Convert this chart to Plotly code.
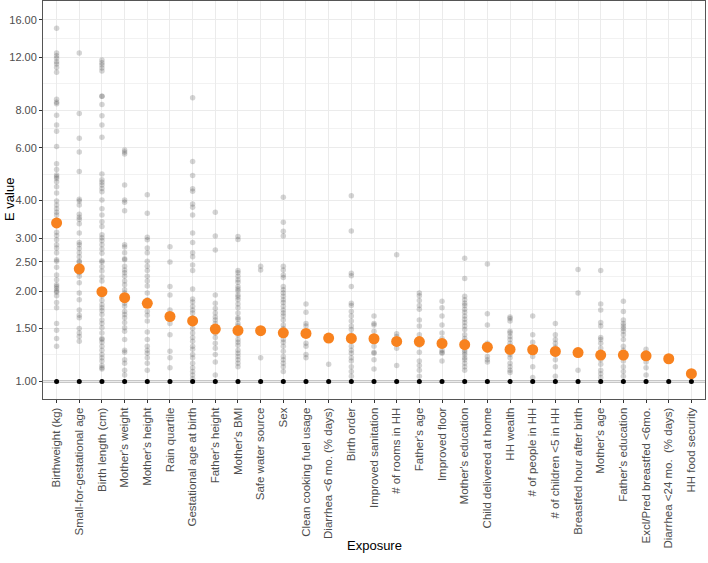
import plotly.graph_objects as go
import numpy as np

categories = [
    "Birthweight (kg)", "Small-for-gestational age", "Birth length (cm)", "Mother's weight",
    "Mother's height", "Rain quartile", "Gestational age at birth", "Father's height",
    "Mother's BMI", "Safe water source", "Sex", "Clean cooking fuel usage",
    "Diarrhea <6 mo. (% days)", "Birth order", "Improved sanitation", "# of rooms in HH",
    "Father's age", "Improved floor", "Mother's education", "Child delivered at home",
    "HH wealth", "# of people in HH", "# of children <5 in HH", "Breastfed hour after birth",
    "Mother's age", "Father's education", "Excl/Pred breastfed <6mo.",
    "Diarrhea <24 mo.  (% days)", "HH food security",
]

# median E value per exposure (orange)
median_evalue = [3.37, 2.37, 1.99, 1.90, 1.82, 1.645, 1.59, 1.494, 1.478, 1.475,
                 1.452, 1.445, 1.394, 1.39, 1.387, 1.359, 1.357, 1.338, 1.325, 1.30,
                 1.278, 1.275, 1.259, 1.248, 1.224, 1.224, 1.217, 1.19, 1.061]

# null reference value (black points)
null_evalue = [1.0, 1.0, 1.0, 1.0, 1.0, 1.0, 1.0, 1.0, 1.0, 1.0, 1.0, 1.0, 1.0, 1.0, 1.0,
               1.0, 1.0, 1.0, 1.0, 1.0, 1.0, 1.0, 1.0, 1.0, 1.0, 1.0, 1.0, 1.0, 1.0]

# individual E values (grey points), one list per exposure
ev_birthweight = [15.0, 12.4, 12.15, 11.9, 11.6, 11.4, 11.1, 10.7, 8.7, 8.5, 8.4, 7.7, 7.14, 6.8,
                  6.05, 5.3, 5.08, 4.87, 4.8, 4.74, 4.62, 4.45, 4.24, 3.99, 3.87, 3.76, 3.66,
                  3.58, 3.45, 3.3, 3.14, 3.06, 2.96, 2.85, 2.78, 2.68, 2.54, 2.51, 2.4, 2.26,
                  2.18, 2.10, 2.07, 2.04, 2.0, 1.98, 1.93, 1.83, 1.76, 1.56, 1.48, 1.39, 1.31]
ev_sga = [12.4, 7.8, 6.45, 5.8, 5.0, 4.04, 3.99, 3.87, 3.6, 3.52, 3.46, 3.35, 3.12, 2.9, 2.85,
          2.77, 2.68, 2.6, 2.51, 2.5, 2.42, 2.3, 2.24, 2.13, 1.97, 1.87, 1.73, 1.66, 1.63, 1.5,
          1.45, 1.41, 1.36]
ev_birthlength = [11.75, 11.5, 11.3, 11.05, 10.8, 8.9, 8.9, 8.35, 7.67, 7.14, 6.5, 4.9, 4.69, 4.6,
                  4.51, 4.39, 4.28, 4.02, 3.76, 3.58, 3.4, 3.28, 3.08, 3.01, 2.94, 2.85, 2.76,
                  2.67, 2.52, 2.5, 2.41, 2.33, 2.23, 2.16, 2.0, 1.93, 1.86, 1.8, 1.76, 1.72, 1.67,
                  1.6, 1.56, 1.51, 1.45, 1.39, 1.38, 1.35, 1.31, 1.27, 1.23, 1.2, 1.17, 1.13,
                  1.11, 1.1]
ev_mweight = [5.9, 5.8, 5.72, 4.51, 4.02, 3.95, 3.7, 2.85, 2.8, 2.68, 2.56, 2.54, 2.42, 2.35, 2.3,
              2.24, 2.16, 2.1, 2.02, 1.97, 1.92, 1.87, 1.82, 1.78, 1.71, 1.67, 1.63, 1.57, 1.51,
              1.47, 1.38, 1.27, 1.25, 1.18, 1.15, 1.09, 1.05]
ev_mheight = [4.18, 3.63, 3.02, 2.96, 2.78, 2.68, 2.51, 2.42, 2.34, 2.24, 2.16, 2.08, 1.97, 1.87,
              1.71, 1.66, 1.59, 1.46, 1.38, 1.31, 1.27, 1.24, 1.2, 1.15, 1.09]
ev_rain = [2.81, 2.5, 2.07, 1.94, 1.73, 1.56, 1.43, 1.26, 1.2, 1.11]
ev_gestage = [8.8, 5.4, 4.85, 4.38, 4.3, 3.9, 3.8, 3.58, 3.12, 2.9, 2.68, 2.6, 2.44, 2.34, 2.03,
              1.88, 1.84, 1.78, 1.73, 1.69, 1.63, 1.56, 1.5, 1.45, 1.4, 1.36, 1.31, 1.28, 1.23,
              1.2, 1.15, 1.11, 1.08, 1.05, 1.02]
ev_fheight = [3.66, 3.05, 2.74, 1.94, 1.82, 1.75, 1.69, 1.64, 1.6, 1.56, 1.45, 1.4, 1.34, 1.29,
              1.23, 1.16, 1.05]
ev_mbmi = [3.04, 2.97, 2.34, 2.3, 2.24, 2.18, 2.14, 2.07, 2.03, 2.0, 1.94, 1.91, 1.87, 1.81,
           1.76, 1.69, 1.63, 1.61, 1.56, 1.53, 1.48, 1.43, 1.38, 1.35, 1.32, 1.27, 1.24, 1.21,
           1.18, 1.15, 1.12]
ev_water = [2.42, 2.35, 1.2]
ev_sex = [4.1, 3.39, 3.16, 3.05, 2.42, 2.35, 2.26, 2.22, 2.07, 2.02, 1.97, 1.92, 1.87, 1.83,
          1.78, 1.73, 1.69, 1.65, 1.6, 1.54, 1.5, 1.38, 1.35, 1.31, 1.26, 1.21, 1.18, 1.15,
          1.12, 1.08]
ev_cooking = [1.81, 1.7, 1.56, 1.53, 1.45, 1.34, 1.31, 1.23, 1.2]
ev_diarr6 = [1.14]
ev_birthorder = [4.15, 3.17, 2.29, 2.25, 2.07, 1.82, 1.79, 1.71, 1.65, 1.59, 1.53, 1.49, 1.43,
                 1.36, 1.31, 1.27, 1.24, 1.2, 1.17, 1.12, 1.08, 1.04]
ev_sanitation = [1.65, 1.56, 1.54, 1.47, 1.36, 1.31, 1.25, 1.24, 1.18, 1.1]
ev_rooms = [2.64, 1.44, 1.41, 1.29, 1.13]
ev_fage = [1.97, 1.93, 1.86, 1.79, 1.74, 1.6, 1.53, 1.43, 1.32, 1.25, 1.17, 1.13, 1.09, 1.04]
ev_floor = [1.85, 1.76, 1.65, 1.54, 1.45, 1.39, 1.27, 1.25, 1.24, 1.17]
ev_meduc = [2.57, 2.2, 1.92, 1.87, 1.82, 1.79, 1.74, 1.7, 1.65, 1.61, 1.57, 1.53, 1.49, 1.43,
            1.39, 1.36, 1.27, 1.25, 1.23, 1.2, 1.18, 1.15, 1.12, 1.09]
ev_home = [2.46, 1.68, 1.54, 1.34, 1.32, 1.27, 1.21, 1.18, 1.16]
ev_wealth = [1.64, 1.62, 1.59, 1.47, 1.45, 1.41, 1.38, 1.34, 1.31, 1.26, 1.23, 1.2, 1.15, 1.12,
             1.09, 1.07]
ev_people = [1.65, 1.43, 1.35, 1.27, 1.21, 1.12, 1.03]
ev_children = [1.56, 1.43, 1.38, 1.34, 1.3, 1.23, 1.18, 1.12, 1.04]
ev_bfhour = [2.36, 1.97, 1.09]
ev_mage = [2.34, 1.81, 1.73, 1.57, 1.53, 1.4, 1.38, 1.34, 1.29, 1.24, 1.18, 1.14, 1.09, 1.06,
           1.03]
ev_feduc = [1.85, 1.71, 1.6, 1.56, 1.53, 1.5, 1.47, 1.43, 1.38, 1.31, 1.27, 1.24, 1.17, 1.12,
            1.08, 1.04]
ev_exclbf = [1.28, 1.16, 1.11, 1.05]
ev_diarr24 = []
ev_foodsec = []

point_values = [ev_birthweight, ev_sga, ev_birthlength, ev_mweight, ev_mheight, ev_rain,
                ev_gestage, ev_fheight, ev_mbmi, ev_water, ev_sex, ev_cooking, ev_diarr6,
                ev_birthorder, ev_sanitation, ev_rooms, ev_fage, ev_floor, ev_meduc, ev_home,
                ev_wealth, ev_people, ev_children, ev_bfhour, ev_mage, ev_feduc, ev_exclbf,
                ev_diarr24, ev_foodsec]

y_ticks = [1.00, 1.50, 2.00, 2.50, 3.00, 4.00, 6.00, 8.00, 12.00, 16.00]
y_ticktext = ["1.00", "1.50", "2.00", "2.50", "3.00", "4.00", "6.00", "8.00", "12.00", "16.00"]

# minor gridlines at midpoints in log space
minor_vals = [float(np.sqrt(a * b)) for a, b in zip(y_ticks[:-1], y_ticks[1:])]

gx, gy = [], []
for cat, vals in zip(categories, point_values):
    gx += [cat] * len(vals)
    gy += vals

fig = go.Figure()
fig.add_trace(go.Scatter(
    x=gx, y=gy, mode="markers",
    marker=dict(size=5.5, color="rgba(60,60,60,0.22)", line=dict(width=0)),
    showlegend=False, hoverinfo="skip"))
fig.add_trace(go.Scatter(
    x=categories, y=null_evalue, mode="markers",
    marker=dict(size=5, color="black", line=dict(width=0)),
    showlegend=False))
fig.add_trace(go.Scatter(
    x=categories, y=median_evalue, mode="markers",
    marker=dict(size=11, color="#F8821E", line=dict(width=0)),
    showlegend=False))

fig.add_hline(y=1, line=dict(color="#222222", width=1.5), layer="below")

font_family = "Liberation Sans, Arial, Helvetica, sans-serif"
fig.update_layout(
    width=708, height=563,
    margin=dict(l=43, r=3, t=1, b=164),
    plot_bgcolor="white", paper_bgcolor="white",
    font=dict(family=font_family, size=11, color="#4D4D4D"),
    showlegend=False,
)
fig.update_xaxes(
    type="category", categoryorder="array", categoryarray=categories,
    range=[-0.6, 28.6], tickangle=-90, automargin=False,
    showgrid=True, gridcolor="#EBEBEB", gridwidth=1,
    showline=True, mirror=True, linecolor="#555555", linewidth=1,
    ticks="outside", ticklen=3, tickcolor="#333333",
    tickfont=dict(size=11.5, color="#4D4D4D"),
    zeroline=False,
)
fig.update_yaxes(
    type="log", range=[np.log10(0.874), np.log10(18.47)], automargin=False,
    tickmode="array", tickvals=y_ticks, ticktext=y_ticktext,
    showgrid=True, gridcolor="#EBEBEB", gridwidth=1,
    minor=dict(tickmode="array", tickvals=minor_vals, showgrid=True,
               gridcolor="#F2F2F2", gridwidth=0.6, ticks=""),
    showline=True, mirror=True, linecolor="#555555", linewidth=1,
    ticks="outside", ticklen=3, tickcolor="#333333",
    tickfont=dict(size=11, color="#4D4D4D"),
    zeroline=False,
)

# axis titles
fig.add_annotation(text="Exposure", xref="paper", yref="paper", x=0.5, y=0,
                   xanchor="center", yanchor="middle", yshift=-146, showarrow=False,
                   font=dict(size=13, color="black", family=font_family))
fig.add_annotation(text="E value", xref="paper", yref="paper", x=0, y=0.5,
                   xanchor="center", yanchor="middle", xshift=-34, textangle=-90,
                   showarrow=False, font=dict(size=13, color="black", family=font_family))

fig.write_html("out.html", config={"displayModeBar": False},
               post_script="document.body.style.margin='0';document.body.style.padding='0';")
